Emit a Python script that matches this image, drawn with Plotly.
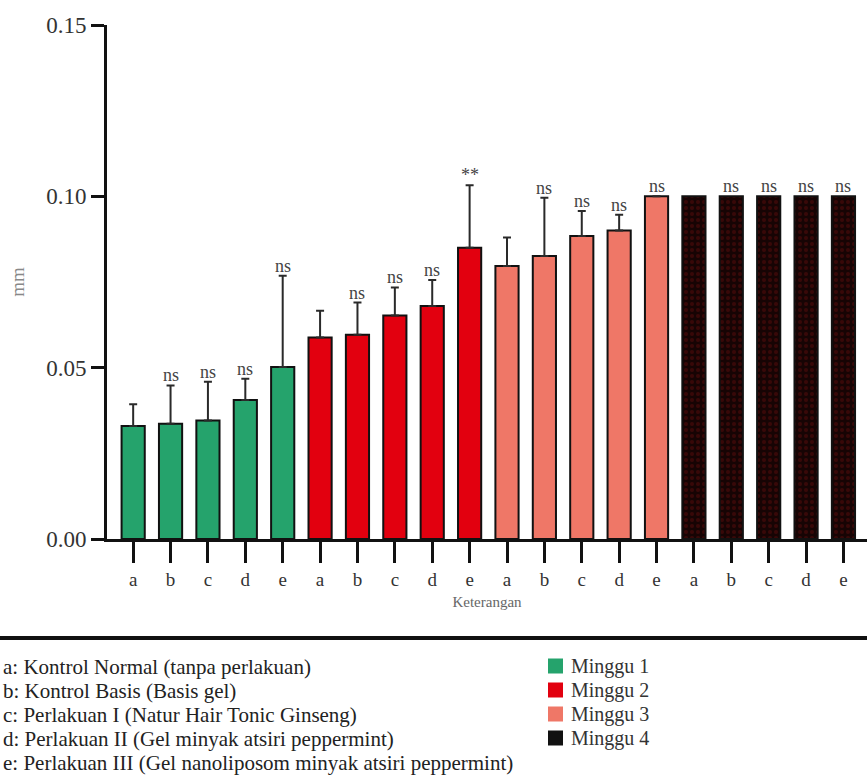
import plotly.graph_objects as go

# Hair length growth (mm) per treatment group, weeks 1-4
groups = ["a", "b", "c", "d", "e"]
weeks = ["Minggu 1", "Minggu 2", "Minggu 3", "Minggu 4"]

mean_w1 = [0.0330, 0.0336, 0.0346, 0.0406, 0.0502]
mean_w2 = [0.0588, 0.0596, 0.0652, 0.0680, 0.0850]
mean_w3 = [0.0797, 0.0826, 0.0884, 0.0900, 0.1000]
mean_w4 = [0.1000, 0.1000, 0.1000, 0.1000, 0.1000]

sd_w1 = [0.0063, 0.0112, 0.0113, 0.0062, 0.0266]
sd_w2 = [0.0078, 0.0094, 0.0082, 0.0076, 0.0182]
sd_w3 = [0.0083, 0.0170, 0.0073, 0.0046, None]
sd_w4 = [None, None, None, None, None]

sig_w1 = ["", "ns", "ns", "ns", "ns"]
sig_w2 = ["", "ns", "ns", "ns", "**"]
sig_w3 = ["", "ns", "ns", "ns", "ns"]
sig_w4 = ["", "ns", "ns", "ns", "ns"]

notes = [
    "a: Kontrol Normal (tanpa perlakuan)",
    "b: Kontrol Basis (Basis gel)",
    "c: Perlakuan I (Natur Hair Tonic Ginseng)",
    "d: Perlakuan II (Gel minyak atsiri peppermint)",
    "e: Perlakuan III (Gel nanoliposom minyak atsiri peppermint)",
]

colors = ["#25a36c", "#e2000f", "#ef7767", "#170404"]
legend_colors = ["#25a36c", "#e2000f", "#ef7767", "#111111"]
means = [mean_w1, mean_w2, mean_w3, mean_w4]
sds = [sd_w1, sd_w2, sd_w3, sd_w4]
sigs = [sig_w1, sig_w2, sig_w3, sig_w4]

SERIF = "Liberation Serif"
W, H = 867, 776
M_L, M_R, M_T, M_B = 107, 0, 25, 237
PLOT_H = H - M_T - M_B
PLOT_W = W - M_L - M_R


def px_x(px):
    return (px - M_L) / PLOT_W


def px_y(py):
    return (H - M_B - py) / PLOT_H


fig = go.Figure()
annotations = []
shapes = []

for w in range(4):
    xs = [w * 5 + i for i in range(5)]
    err_plus = [e if e is not None else float("nan") for e in sds[w]]
    marker = dict(color=colors[w], line=dict(color="#111111", width=2))
    if w == 3:
        marker["pattern"] = dict(shape=".", fgcolor="#5c0c0c", bgcolor=colors[w],
                                 size=6, solidity=0.35)
    fig.add_trace(go.Bar(
        x=xs, y=means[w], width=0.62, name=weeks[w], marker=marker,
        showlegend=False,
        error_y=dict(type="data", array=err_plus, arrayminus=[0] * 5,
                     symmetric=False, thickness=2, width=4, color="#2a2a2a",
                     visible=any(e is not None for e in sds[w])),
    ))
    for i, x in enumerate(xs):
        label = sigs[w][i]
        if not label:
            continue
        top = means[w][i] + (sds[w][i] or 0)
        annotations.append(dict(
            x=x, y=top, xref="x", yref="y", text=label, showarrow=False,
            yanchor="bottom", yshift=-2,
            font=dict(family=SERIF, size=18, color="#444444"),
        ))

# Group descriptions below the chart
for k, line in enumerate(notes):
    annotations.append(dict(
        x=px_x(1), y=px_y(667 + 24 * k), xref="paper", yref="paper",
        text=line, showarrow=False, xanchor="left", yanchor="middle",
        font=dict(family=SERIF, size=21, color="#222222"),
    ))

# Colour key for the weeks
for k, name in enumerate(weeks):
    cy = 666 + 24 * k
    shapes.append(dict(type="rect", xref="paper", yref="paper",
                       x0=px_x(548), x1=px_x(563), y0=px_y(cy - 7.5), y1=px_y(cy + 7.5),
                       fillcolor=legend_colors[k], line=dict(width=0)))
    annotations.append(dict(
        x=px_x(569), y=px_y(cy), xref="paper", yref="paper",
        text=name, showarrow=False, xanchor="left", yanchor="middle",
        font=dict(family=SERIF, size=20, color="#333333"),
    ))

# Rule separating the chart from its key
shapes.append(dict(type="line", xref="paper", yref="paper",
                   x0=px_x(0), x1=1, y0=px_y(638), y1=px_y(638),
                   line=dict(color="#111111", width=4)))

fig.update_layout(
    width=W, height=H,
    margin=dict(l=M_L, r=M_R, t=M_T, b=M_B),
    plot_bgcolor="white", paper_bgcolor="white",
    font=dict(family=SERIF),
    barmode="overlay",
    showlegend=False,
    annotations=annotations,
    shapes=shapes,
    xaxis=dict(
        range=[-0.7, 19.63], tickmode="array",
        tickvals=list(range(20)), ticktext=groups * 4,
        ticks="outside", ticklen=21, tickwidth=3, tickcolor="#111111",
        showline=True, linecolor="#111111", linewidth=3,
        showgrid=False, zeroline=False,
        tickfont=dict(family=SERIF, size=19, color="#333333"),
        title=dict(text="Keterangan", standoff=8,
                   font=dict(family=SERIF, size=15, color="#666666")),
    ),
    yaxis=dict(
        range=[0, 0.15], tickmode="array",
        tickvals=[0, 0.05, 0.10, 0.15], ticktext=["0.00", "0.05", "0.10", "0.15"],
        ticks="outside", ticklen=13, tickwidth=3, tickcolor="#111111",
        showline=True, linecolor="#111111", linewidth=3,
        showgrid=False, zeroline=False,
        tickfont=dict(family=SERIF, size=23, color="#333333"),
        title=dict(text="mm", standoff=17,
                   font=dict(family=SERIF, size=19, color="#888888")),
    ),
)

fig.write_html("out.html")
